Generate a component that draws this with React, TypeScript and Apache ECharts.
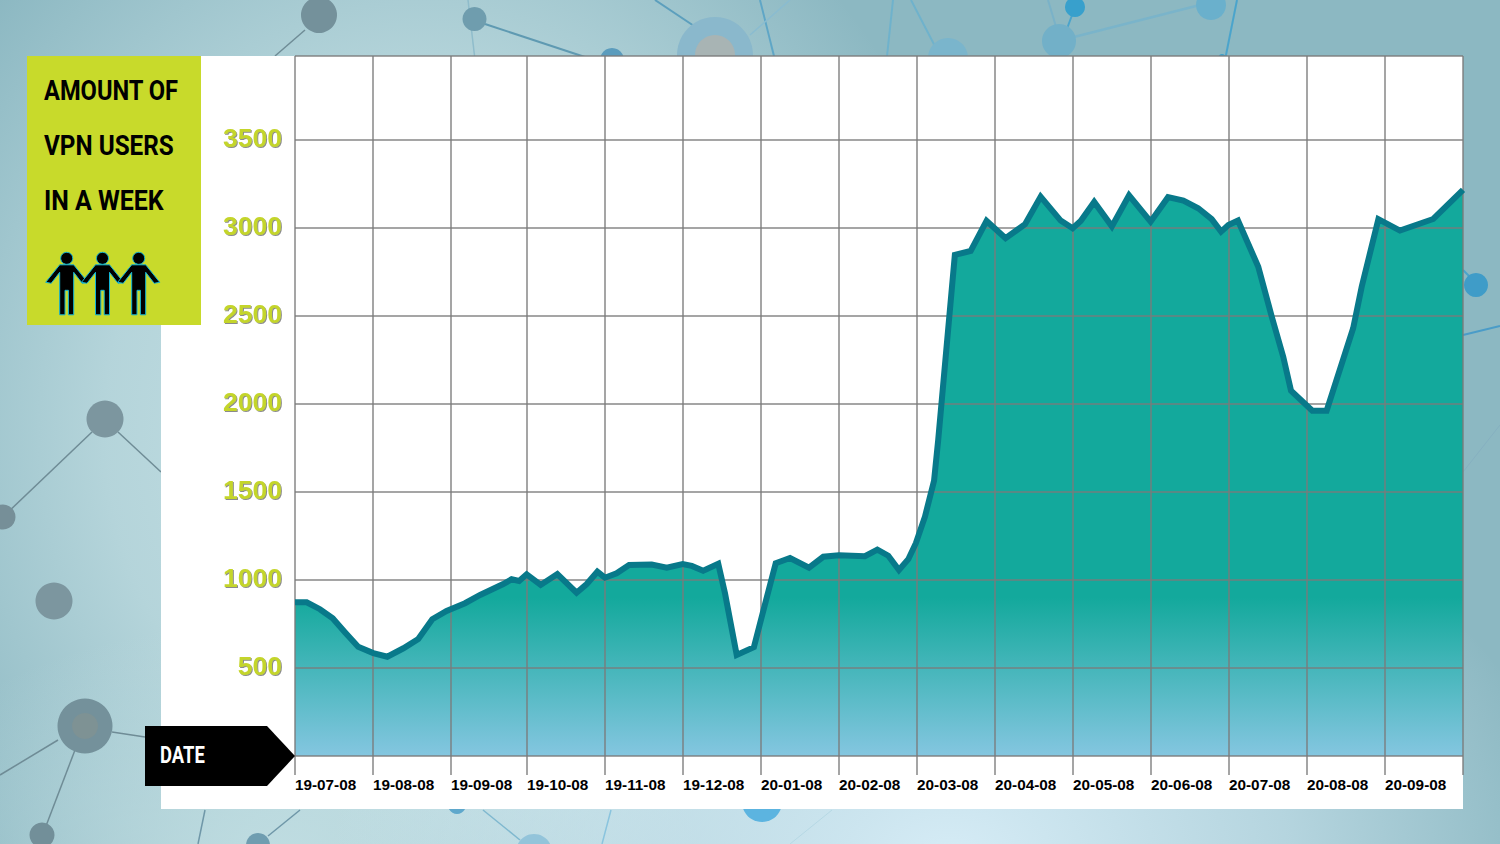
import React, { useEffect, useRef } from "react";
import * as echarts from "echarts";

const tickLabels = ["19-07-08","19-08-08","19-09-08","19-10-08","19-11-08","19-12-08","20-01-08","20-02-08","20-03-08","20-04-08","20-05-08","20-06-08","20-07-08","20-08-08","20-09-08"];
const tickDays = [0,30,60,89.25,119.25,149.25,179.25,209.25,239.25,269.25,299.25,329.25,359.25,389.25,419.25,449.25];
const days = [0,4.5,9.6,14.5,19.2,24.3,30.1,35.5,41.7,47.4,52.8,58.3,65.4,71.2,80.1,83.3,86.2,89.1,94.5,100.9,108.3,112.2,116.3,119.2,123.7,128.5,137.2,143,149.1,152.6,157,162.8,165.4,169.9,176.5,181.2,184.9,190.4,197.7,203.2,209.2,219.2,224,228.2,232.3,235.9,238.8,242.3,245.8,247.4,253.8,259.9,266,273.3,280.8,286.8,294.5,299.1,302.2,307.4,314.2,320.8,329.1,335.8,341.7,347.4,352.6,356.2,359,362.7,370.5,375.7,380.1,383.1,391.3,396.8,407,410.3,416.7,425,437.8,449.25];
const users = [873,873,834,782,703,621,585,564,612,665,777,824,868,915,977,1004,994,1032,972,1034,928,977,1047,1013,1038,1085,1088,1070,1091,1080,1053,1092,924,574,618,886,1095,1125,1070,1132,1140,1135,1172,1138,1057,1118,1209,1360,1564,1796,2847,2869,3040,2942,3021,3178,3042,2998,3040,3148,3009,3185,3036,3175,3155,3112,3050,2979,3017,3042,2780,2496,2269,2076,1962,1962,2430,2667,3050,2985,3051,3216];
const titleLines = ["AMOUNT OF", "VPN USERS", "IN A WEEK"];
const dateLabel = "DATE";
const yMax = 3977;

const GRAY = "#74919b";
const nodes: [number, number, number, string][] = [
  [319,15,18,GRAY],[474.5,19,12,"#6f9dae"],[612,60,12,"#5b9cbd"],[715,55,38,"#8ab8cc"],[715,55,20,"#a8b4b4"],
  [948,58,20,"#7ab5cc"],[1059,41,17,"#72b0c8"],[1075,7,10,"#38a0cc"],[1211,5,15,"#6ab0cc"],[1222,58,4,"#38a0cc"],
  [105,419,18.5,"#7c969f"],[3,517,12.5,"#768f98"],[54,601,18.5,"#7c969f"],[85,726,27.5,GRAY],[85,726,13,"#7e9294"],[42,835,12.5,"#728f99"],
  [258,845,12,"#6f9db0"],[457,805,9,"#5fa8cc"],[534,852,18,"#93c4da"],[762,802,20,"#5cb4e0"],[1476,285,12,"#3f9cc8"],
];
const links: [number, number, number, number, string, number][] = [
  [305,30,275,56,"#6f8c96",1.5],[485,24,600,62,"#5f9ab2",2],[468,0,475,60,"#8fbccb",1.5],
  [655,0,745,60,"#5c9fbd",2],[760,0,775,60,"#5fa6c6",2],[790,0,750,35,"#8abcd0",1.5],
  [911,0,938,52,"#6fb2cc",2],[893,0,885,75,"#6fb2cc",2],[1075,7,1050,75,"#4aa4cc",2],[1048,0,1057,30,"#7ab2c8",2],
  [1070,38,1200,5,"#7ab4ca",2.5],[1237,0,1222,75,"#4aa4cc",2],
  [92,432,5,515,"#6f8c96",1.5],[118,432,161,472,"#6f8c96",1.5],[58,740,0,775,"#6f8c96",1.5],[75,750,46,826,"#6f8c96",1.5],[112,732,145,737,"#6f8c96",1.5],
  [300,810,268,836,"#6f97a8",1.5],[205,810,198,844,"#6f97a8",1.5],[483,810,520,840,"#7fb8cf",1.5],[611,810,602,844,"#8ac4de",1.5],[832,810,790,844,"#b6d8e4",1],
  [1463,270,1470,277,"#4aa4cc",2],[1463,335,1500,326,"#4a9cc8",2],[1463,472,1500,425,"#86b0c0",1],
];

echarts.graphic.registerShape(
  "person",
  echarts.graphic.extendPath(
    "M-7 6.5L7 6.5L21 24L15.5 25L7 14L7 56.5L1.7 56.5L1.7 32L-1.7 32L-1.7 56.5L-7 56.5L-7 14L-15.5 25L-21 24Z",
    {}
  ) as any
);

export default function App() {
  const ref = useRef<HTMLDivElement>(null);
  useEffect(() => {
    document.body.style.margin = "0";
    const chart = echarts.init(ref.current!, undefined, { renderer: "svg" });
    const graphic: any[] = [];
    links.forEach(([x1, y1, x2, y2, c, w]) =>
      graphic.push({ type: "line", z: -20, shape: { x1, y1, x2, y2 }, style: { stroke: c, lineWidth: w } })
    );
    nodes.forEach(([cx, cy, r, c]) =>
      graphic.push({ type: "circle", z: -19, shape: { cx, cy, r }, style: { fill: c } })
    );
    graphic.push({ type: "rect", z: -10, shape: { x: 161, y: 56, width: 1302, height: 753 }, style: { fill: "#fff" } });
    graphic.push({ type: "rect", z: 10, shape: { x: 27, y: 56, width: 174, height: 269 }, style: { fill: "#c8da2b" } });
    const lineScales = [0.845, 0.867, 0.89];
    titleLines.forEach((t, i) =>
      graphic.push({
        type: "text", z: 11, x: 44, y: 90 + i * 55, scaleX: lineScales[i],
        style: { text: t, font: "700 28px Roboto", fill: "#000", verticalAlign: "middle", align: "left" },
      })
    );
    [66.7, 102.5, 138.7].forEach((x) => {
      graphic.push({ type: "person", z: 11, x, y: 258.3, style: { fill: "#000", stroke: "#12b5d6", lineWidth: 1 } });
      graphic.push({ type: "circle", z: 11, shape: { cx: x, cy: 258.3, r: 6 }, style: { fill: "#000", stroke: "#12b5d6", lineWidth: 1 } });
    });
    graphic.push({
      type: "polygon", z: 10,
      shape: { points: [[145, 726], [267, 726], [295, 756], [267, 786], [145, 786]] },
      style: { fill: "#000" },
    });
    graphic.push({
      type: "text", z: 11, x: 160, y: 755, scaleX: 0.8,
      style: { text: dateLabel, font: "700 23px Roboto", fill: "#fff", verticalAlign: "middle", align: "left" },
    });

    const points = days.map((d, i) => [d, users[i]]);
    const lineColor = "#08798a";
    const gridColor = "rgba(122,122,122,0.68)";
    chart.setOption({
      animation: false,
      graphic,
      grid: { left: 295, right: 37, top: 56, bottom: 88 },
      xAxis: {
        type: "value", z: 2, min: 0, max: 449.25,
        axisLine: { show: false },
        axisTick: { show: true, length: 19, customValues: tickDays, lineStyle: { color: gridColor, width: 2 } },
        axisLabel: {
          customValues: tickDays.slice(0, -1), margin: 21, align: "left", verticalAlign: "top",
          color: "#000", fontFamily: "Liberation Sans", fontWeight: "bold", fontSize: 15.3,
          hideOverlap: false,
          formatter: (v: number) => tickLabels[tickDays.indexOf(v)] ?? "",
        },
        splitLine: { show: true, lineStyle: { color: gridColor, width: 2 } },
      },
      yAxis: {
        type: "value", z: 2, min: 0, max: yMax, interval: 500,
        axisLine: { show: false }, axisTick: { show: false },
        axisLabel: {
          margin: 13, lineHeight: 4, verticalAlign: "bottom", color: "#c4d52c", fontFamily: "Liberation Sans", fontWeight: "bold", fontSize: 26.5,
          textShadowColor: "rgba(90,90,90,0.7)", textShadowOffsetX: 1, textShadowOffsetY: 1, textShadowBlur: 1,
          formatter: (v: number) => (v > 0 && v % 500 === 0 ? String(v) : ""),
        },
        splitLine: { show: true, lineStyle: { color: gridColor, width: 2 } },
      },
      series: [
        {
          type: "line", z: 1, data: points, symbol: "none", showSymbol: false, silent: true,
          lineStyle: { width: 0 },
          areaStyle: {
            opacity: 1,
            color: new echarts.graphic.LinearGradient(0, 0, 0, 1, [
              { offset: 0, color: "#13a99c" },
              { offset: 0.72, color: "#13a99c" },
              { offset: 1, color: "#84c6e0" },
            ]),
          },
        },
        {
          type: "line", z: 3, data: points, symbol: "none", showSymbol: false,
          lineStyle: { color: lineColor, width: 6, join: "miter", miterLimit: 10 },
        },
      ],
    });
    return () => chart.dispose();
  }, []);
  return (
    <div
      ref={ref}
      style={{
        position: "absolute", left: 0, top: 0, width: 1500, height: 844,
        backgroundColor: "#8cb8c2",
        backgroundImage:
          "radial-gradient(ellipse 620px 420px at 950px 860px, rgba(214,236,246,1) 0%, rgba(214,236,246,0.55) 55%, rgba(214,236,246,0) 100%)," +
          "radial-gradient(ellipse 420px 240px at 280px 860px, rgba(196,224,228,0.85) 0%, rgba(196,224,228,0) 100%)," +
          "radial-gradient(ellipse 570px 640px at 420px 430px, rgba(205,230,234,0.95) 0%, rgba(200,226,230,0.68) 55%, rgba(200,226,230,0) 100%)",
      }}
    />
  );
}
